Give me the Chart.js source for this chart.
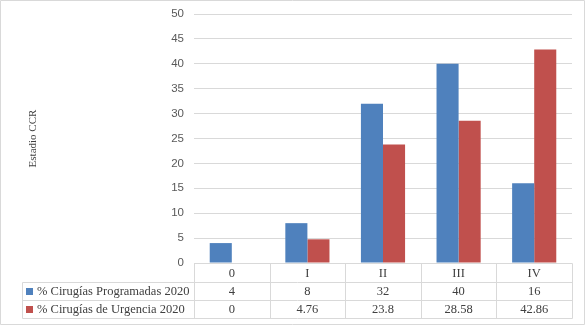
<!DOCTYPE html>
<html>
<head>
<meta charset="utf-8">
<script src="https://cdn.jsdelivr.net/npm/chart.js@4.4.0/dist/chart.umd.min.js"></script>
<style>
  html, body { margin: 0; padding: 0; background: #fff; }
  #wrap { position: relative; width: 586px; height: 326px; }
</style>
</head>
<body>
<div id="wrap"><canvas id="ccrChart" width="586" height="326"></canvas></div>
<script>
const estadios = ['0', 'I', 'II', 'III', 'IV'];
const programadas = [4, 8, 32, 40, 16];
const urgencia = [0, 4.76, 23.8, 28.58, 42.86];
const seriesNames = ['% Cirugías Programadas 2020', '% Cirugías de Urgencia 2020'];
const seriesColors = ['#4f81bd', '#c0504d'];
const yMax = 50;
const yStep = 5;

const serif = '"Liberation Serif", "DejaVu Serif", serif';
const sans = '"Liberation Sans Narrow", "Liberation Sans", sans-serif';

// data table under the plot, lined up with the category scale
const dataTable = {
  id: 'dataTable',
  afterDraw(chart) {
    const { ctx, chartArea, scales: { x } } = chart;
    const catW = (x.right - x.left) / estadios.length;
    const top = Math.round(chartArea.bottom);
    const rows = [top, top + 19, top + 37, top + 55];
    const tableLeft = 22;
    const px = v => Math.round(v) + 0.5;

    ctx.save();
    ctx.strokeStyle = '#d9d9d9';
    ctx.lineWidth = 1;
    ctx.beginPath();
    // outer frame
    ctx.rect(0.5, 0.5, 584, 324);
    // horizontal rules
    ctx.moveTo(px(x.left), px(rows[0])); ctx.lineTo(px(x.right), px(rows[0]));
    for (let r = 1; r < rows.length; r++) {
      ctx.moveTo(tableLeft + 0.5, px(rows[r]));
      ctx.lineTo(px(x.right), px(rows[r]));
    }
    // vertical rules
    ctx.moveTo(tableLeft + 0.5, px(rows[1])); ctx.lineTo(tableLeft + 0.5, px(rows[3]));
    for (let i = 0; i <= estadios.length; i++) {
      const cx = px(x.left + i * catW);
      ctx.moveTo(cx, px(rows[0])); ctx.lineTo(cx, px(rows[3]));
    }
    ctx.stroke();

    ctx.fillStyle = '#404040';
    ctx.font = '12.5px ' + serif;
    ctx.textBaseline = 'middle';
    ctx.textAlign = 'center';
    estadios.forEach((lab, i) => {
      const cx = x.getPixelForValue(i);
      ctx.fillText(lab, cx, (rows[0] + rows[1]) / 2 + 1);
      ctx.fillText(String(programadas[i]), cx, (rows[1] + rows[2]) / 2 + 1);
      ctx.fillText(String(urgencia[i]), cx, (rows[2] + rows[3]) / 2 + 1);
    });

    ctx.textAlign = 'left';
    seriesNames.forEach((name, s) => {
      const cy = (rows[s + 1] + rows[s + 2]) / 2;
      ctx.fillStyle = seriesColors[s];
      ctx.fillRect(26, Math.round(cy) - 3, 7, 7);
      ctx.fillStyle = '#404040';
      ctx.fillText(name, 37, cy + 1);
    });
    ctx.restore();
  }
};

new Chart(document.getElementById('ccrChart'), {
  type: 'bar',
  data: {
    labels: estadios,
    datasets: [
      { label: seriesNames[0], data: programadas, backgroundColor: seriesColors[0] },
      { label: seriesNames[1], data: urgencia, backgroundColor: seriesColors[1] }
    ]
  },
  options: {
    responsive: false,
    animation: false,
    layout: { padding: { left: 18, right: 14, top: 14, bottom: 63 } },
    datasets: { bar: { barPercentage: 1, categoryPercentage: 0.584 } },
    plugins: { legend: { display: false }, tooltip: { enabled: false } },
    scales: {
      x: { display: false },
      y: {
        min: 0,
        max: yMax,
        ticks: { stepSize: yStep, padding: 10, color: '#595959', font: { family: sans, size: 11.5 } },
        grid: { color: '#d9d9d9', drawTicks: false },
        border: { display: false },
        title: {
          display: true,
          text: 'Estadio CCR',
          color: '#404040',
          font: { family: serif, size: 11 },
          padding: { top: 9, bottom: 0 }
        },
        afterFit(scale) {
          // fixed gutter for the table's series names; layout padding sets the top
          scale.width = 176;
          scale.paddingTop = 0;
          scale.paddingBottom = 0;
        }
      }
    }
  },
  plugins: [dataTable]
});
</script>
</body>
</html>
